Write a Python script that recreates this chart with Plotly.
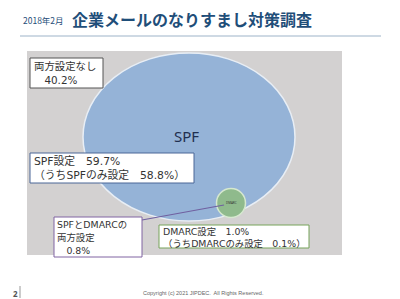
import plotly.graph_objects as go

# ---- data ----
labels = ["両方設定なし", "SPF設定", "SPFのみ設定", "SPFとDMARCの両方設定", "DMARC設定", "DMARCのみ設定"]
values = [40.2, 59.7, 58.8, 0.8, 1.0, 0.1]
v = dict(zip(labels, values))

title_small = "2018年2月"
title_main = "企業メールのなりすまし対策調査"
footer = "Copyright (c) 2021 JIPDEC.  All Rights Reserved."
page_no = "2"

JP = "Noto Sans CJK JP, Noto Sans, sans-serif"
BOX = "DejaVu Sans, Noto Sans CJK JP, sans-serif"
TXT = "#333333"

fig = go.Figure()
fig.add_trace(go.Scatter(x=[0, 400], y=[0, 299], mode="markers",
                         marker=dict(opacity=0), hoverinfo="skip", showlegend=False))

shapes = []
shapes.append(dict(type="line", x0=20, x1=381, y0=36, y1=36, line=dict(color="#9DB3C8", width=1)))
shapes.append(dict(type="rect", x0=27, x1=342, y0=51, y1=255, fillcolor="#D3D1D1", line=dict(width=0), layer="below"))
shapes.append(dict(type="circle", x0=83, x1=295, y0=53, y1=221, fillcolor="#95B3D7", line=dict(color="#E8EEF5", width=1.5)))
shapes.append(dict(type="circle", x0=216.5, x1=245.5, y0=188.5, y1=217.5, fillcolor="#8FBA8C", line=dict(color="#D6E8CF", width=1.5)))
shapes.append(dict(type="line", x0=142, y0=220, x1=224, y1=205, line=dict(color="#7060A0", width=1.2)))
shapes.append(dict(type="rect", x0=30, x1=103, y0=58, y1=88, fillcolor="white", line=dict(color="#555555", width=1)))
shapes.append(dict(type="rect", x0=30, x1=194, y0=153, y1=183, fillcolor="white", line=dict(color="#4A6797", width=1)))
shapes.append(dict(type="rect", x0=54, x1=142, y0=217, y1=257, fillcolor="white", line=dict(color="#8064A2", width=1)))
shapes.append(dict(type="rect", x0=159, x1=309, y0=225, y1=248, fillcolor="white", line=dict(color="#77A35A", width=1)))
shapes.append(dict(type="line", x0=20, x1=20, y0=286, y1=298, line=dict(color="#999999", width=1)))

ann = []
def t(x, y, s, size=10, color=TXT, xanchor="left", family=BOX):
    ann.append(dict(x=x, y=y, text=s, showarrow=False, xanchor=xanchor, yanchor="middle",
                    align="left", font=dict(size=size, color=color, family=family)))

t(21, 20, title_small, size=8.5, color="#1F4E79", family=JP)
t(70, 19, "<b>" + title_main + "</b>", size=16, color="#1F4E79", family=JP)

t(32, 66, labels[0], size=10.4)
t(32, 80, f"　{v['両方設定なし']}%", size=10.4)

t(186, 136, "SPF", size=15, color="#1F2F4F", xanchor="center", family="Noto Sans, sans-serif")
t(231, 203, "DMARC", size=3, color="#333333", xanchor="center", family="Noto Sans, sans-serif")

t(32, 161, f"SPF設定　{v['SPF設定']}%", size=10.8)
t(32, 175, f"（うちSPFのみ設定　{v['SPFのみ設定']}%）", size=10.8)

t(55, 224, "SPFとDMARCの", size=9.4)
t(55, 237, "両方設定", size=9.4)
t(55, 250, f"　{v['SPFとDMARCの両方設定']}%", size=9.4)

t(161, 231, f"DMARC設定　{v['DMARC設定']}%", size=9.4)
t(161, 243, f"（うちDMARCのみ設定　{v['DMARCのみ設定']}%）", size=9.4)

t(11, 293, "<b>" + page_no + "</b>", size=8, color="#555555", family="Noto Sans, sans-serif")
t(203, 293, footer, size=5.5, color="#666666", xanchor="center", family="Liberation Sans, sans-serif")

fig.update_layout(
    width=400, height=299, margin=dict(l=0, r=0, t=0, b=0),
    paper_bgcolor="white", plot_bgcolor="white",
    xaxis=dict(range=[0, 400], visible=False, fixedrange=True),
    yaxis=dict(range=[299, 0], visible=False, fixedrange=True),
    shapes=shapes, annotations=ann, showlegend=False,
)
fig.write_html("out.html", config={"displayModeBar": False})
